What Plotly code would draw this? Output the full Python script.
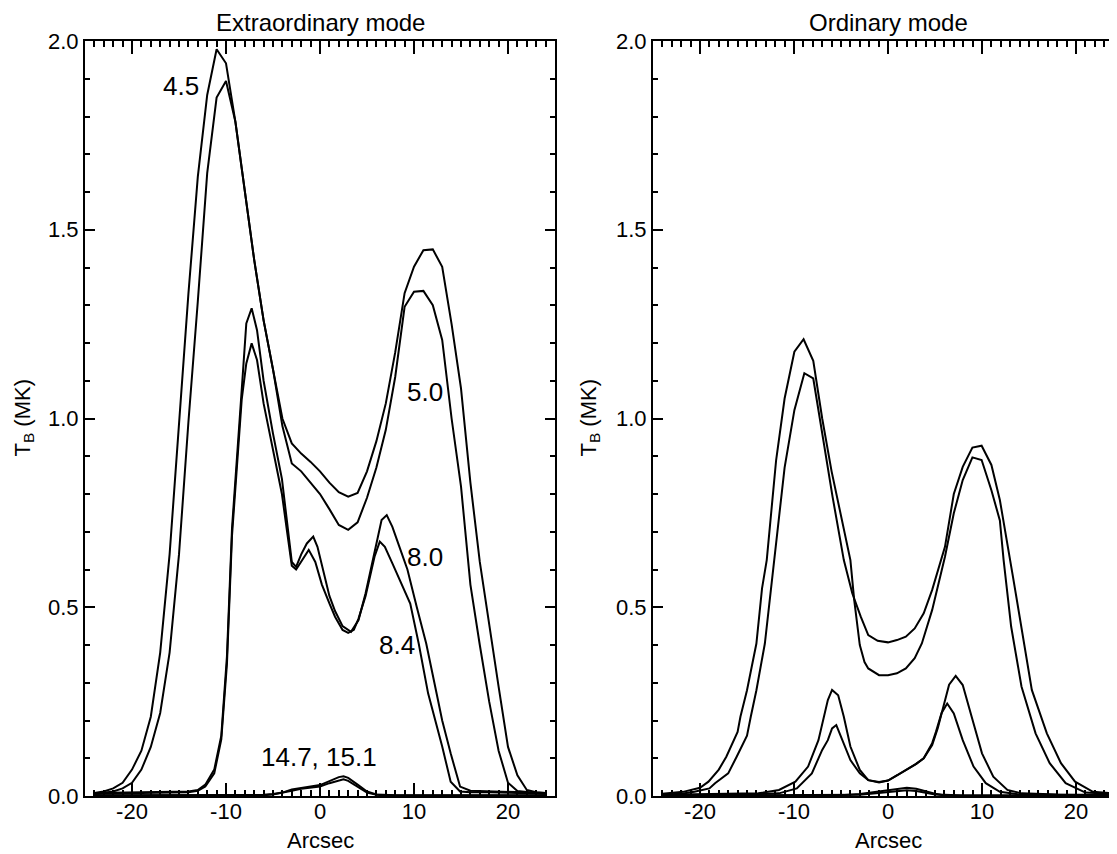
import plotly.graph_objects as go

# ---------------- Extraordinary mode (left panel) ----------------
x_grid = [-24, -23, -22, -21, -20, -19, -18, -17, -16, -15, -14, -13, -12, -11, -10, -9, -8, -7, -6, -5,
          -4, -3, -2, -1, 0, 1, 2, 3, 4, 5, 6, 7, 8, 9, 10, 11, 12, 13, 14, 15, 16, 17, 18, 19, 20, 21, 22, 23, 24]
ex_45_y = [0.008, 0.012, 0.02, 0.035, 0.07, 0.12, 0.21, 0.38, 0.64, 0.99, 1.33, 1.64, 1.857, 1.978, 1.941, 1.786,
           1.60, 1.42, 1.26, 1.13, 1.0, 0.934, 0.907, 0.885, 0.86, 0.83, 0.805, 0.793, 0.803, 0.86, 0.94, 1.04,
           1.175, 1.332, 1.402, 1.446, 1.448, 1.402, 1.25, 1.08, 0.83, 0.62, 0.45, 0.29, 0.13, 0.055, 0.016, 0.01, 0.008]
ex_50_y = [0.005, 0.008, 0.012, 0.02, 0.035, 0.07, 0.13, 0.22, 0.38, 0.64, 0.99, 1.31, 1.65, 1.85, 1.894, 1.786,
           1.60, 1.42, 1.26, 1.13, 0.98, 0.881, 0.86, 0.83, 0.80, 0.76, 0.718, 0.705, 0.725, 0.79, 0.87, 0.97,
           1.11, 1.296, 1.336, 1.338, 1.30, 1.208, 1.0, 0.82, 0.56, 0.40, 0.25, 0.12, 0.035, 0.013, 0.01, 0.008, 0.006]

ex_80_x = [-24, -20, -16, -14, -13, -12.2, -11.25, -10.5, -9.9, -9.36, -8.33, -7.84, -7.27, -6.7, -6.0, -5.0,
           -4.05, -3.5, -3.0, -2.54, -2.0, -1.4, -0.72, -0.27, 0.5, 1.0, 1.6, 2.4, 3.3, 4.1, 4.85, 5.6, 6.2,
           6.55, 7.1, 7.7, 8.45, 9.3, 10.3, 11.3, 12.4, 13.0, 13.9, 14.9, 16, 18, 20, 22, 24]
ex_80_y = [0.008, 0.01, 0.012, 0.012, 0.016, 0.03, 0.07, 0.16, 0.37, 0.71, 1.075, 1.252, 1.292, 1.234, 1.10, 0.96,
           0.84, 0.73, 0.62, 0.607, 0.64, 0.669, 0.687, 0.66, 0.58, 0.53, 0.49, 0.45, 0.435, 0.466, 0.537, 0.625,
           0.696, 0.731, 0.744, 0.713, 0.66, 0.60, 0.50, 0.404, 0.272, 0.20, 0.113, 0.025, 0.014, 0.012, 0.012, 0.01, 0.008]
ex_84_x = [-24, -20, -16, -14, -13, -12.2, -11.25, -10.5, -9.9, -9.36, -8.33, -7.84, -7.27, -6.7, -6.0, -5.0,
           -4.05, -3.5, -3.0, -2.54, -2.0, -1.2, -0.5, 0.2, 1.0, 1.6, 2.4, 3.0, 3.6, 4.1, 4.85, 5.8, 6.36, 6.9,
           7.7, 8.7, 9.6, 10.5, 11.5, 13.0, 13.9, 14.9, 16, 18, 20, 22, 24]
ex_84_y = [0.006, 0.008, 0.01, 0.01, 0.014, 0.025, 0.06, 0.15, 0.35, 0.69, 1.05, 1.146, 1.199, 1.155, 1.04, 0.92,
           0.80, 0.70, 0.61, 0.60, 0.62, 0.652, 0.62, 0.56, 0.51, 0.475, 0.44, 0.432, 0.44, 0.47, 0.53, 0.634,
           0.674, 0.66, 0.616, 0.56, 0.51, 0.404, 0.272, 0.131, 0.038, 0.012, 0.01, 0.01, 0.009, 0.008, 0.006]

ex_hi_x = [-24, -10, -6, -5, -4, -3, -2, -1, 0, 1, 2, 2.5, 3, 4, 5, 6, 8, 24]
ex_147_y = [0.002, 0.002, 0.003, 0.005, 0.009, 0.017, 0.022, 0.025, 0.029, 0.040, 0.050, 0.052, 0.048, 0.030,
            0.012, 0.004, 0.002, 0.002]
ex_151_y = [0.001, 0.001, 0.002, 0.004, 0.008, 0.014, 0.019, 0.022, 0.025, 0.034, 0.042, 0.044, 0.040, 0.025,
            0.009, 0.003, 0.001, 0.001]

# ---------------- Ordinary mode (right panel) ----------------
o_45_x = [-24, -21.8, -20, -19.1, -18, -17.2, -16, -15.7, -15, -14, -13.4, -12.9, -11.9, -11.0, -9.96, -8.98,
          -7.95, -7.0, -6.0, -5.0, -4.0, -3.6, -3.0, -2.5, -2.1, -0.95, 0, 0.95, 1.9, 2.84, 3.6, 4.7, 5.7, 6.06,
          7.0, 7.95, 8.98, 9.96, 11.0, 11.9, 12.3, 13.1, 14.2, 15.7, 17.2, 18.9, 21.0, 24]
o_45_y = [0.006, 0.011, 0.022, 0.038, 0.07, 0.104, 0.17, 0.21, 0.28, 0.404, 0.55, 0.625, 0.89, 1.053, 1.177, 1.210,
          1.153, 1.0, 0.86, 0.74, 0.625, 0.52, 0.40, 0.355, 0.338, 0.32, 0.32, 0.325, 0.338, 0.365, 0.404, 0.493,
          0.599, 0.634, 0.749, 0.837, 0.897, 0.89, 0.81, 0.73, 0.625, 0.449, 0.29, 0.166, 0.087, 0.034, 0.009, 0.005]
o_50_x = [-24, -22, -20.6, -19, -18.4, -17, -16.1, -15, -14.6, -14, -13.1, -12.3, -11.9, -11.0, -9.96, -8.9,
          -7.95, -7.0, -5.9, -4.7, -3.8, -2.9, -2.1, -1.1, 0, 0.95, 1.9, 2.84, 3.8, 4.7, 5.7, 6.06, 7.0, 7.95,
          8.98, 9.96, 11.0, 11.9, 13.3, 14.2, 15.3, 16.9, 18.4, 19.9, 21.8, 24]
o_50_y = [0.004, 0.006, 0.011, 0.02, 0.034, 0.06, 0.104, 0.16, 0.21, 0.28, 0.404, 0.58, 0.66, 0.87, 1.022, 1.12,
          1.106, 0.96, 0.793, 0.625, 0.537, 0.475, 0.426, 0.411, 0.407, 0.413, 0.422, 0.444, 0.484, 0.546, 0.625,
          0.66, 0.80, 0.872, 0.923, 0.928, 0.877, 0.784, 0.58, 0.449, 0.281, 0.166, 0.087, 0.038, 0.011, 0.007]

o_80_x = [-24, -20, -16, -13.8, -11.6, -9.85, -8.5, -7.4, -6.4, -5.95, -5.3, -4.7, -4.0, -3.0, -2.1, -0.95, 0,
          1.0, 2.0, 3.0, 3.8, 4.7, 5.3, 5.9, 6.5, 7.2, 7.95, 8.9, 10.0, 11.2, 12.7, 14.2, 18, 24]
o_80_y = [0.003, 0.004, 0.005, 0.007, 0.016, 0.038, 0.078, 0.148, 0.254, 0.281, 0.267, 0.21, 0.131, 0.069, 0.042,
          0.036, 0.041, 0.055, 0.07, 0.085, 0.10, 0.135, 0.18, 0.24, 0.295, 0.318, 0.294, 0.21, 0.113, 0.051, 0.016,
          0.007, 0.004, 0.003]
o_84_x = [-24, -16, -11.6, -9.7, -8.1, -7.0, -6.4, -5.95, -5.5, -4.7, -4.0, -3.0, -2.1, -0.95, 0, 1.0, 2.0,
          3.0, 3.8, 4.7, 5.1, 5.7, 6.3, 7.0, 7.95, 9.1, 10.4, 11.9, 14, 24]
o_84_y = [0.002, 0.003, 0.007, 0.02, 0.06, 0.122, 0.148, 0.179, 0.188, 0.14, 0.095, 0.06, 0.042, 0.037, 0.041,
          0.055, 0.07, 0.085, 0.10, 0.14, 0.17, 0.22, 0.245, 0.219, 0.148, 0.078, 0.034, 0.011, 0.004, 0.002]

o_hi_x = [-24, -6, -5, -3, -1, 0, 1, 2, 3, 4, 5, 6, 8, 24]
o_147_y = [0.001, 0.001, 0.002, 0.005, 0.012, 0.016, 0.020, 0.022, 0.019, 0.012, 0.006, 0.003, 0.001, 0.001]
o_151_y = [0.001, 0.001, 0.001, 0.003, 0.008, 0.011, 0.014, 0.015, 0.013, 0.008, 0.004, 0.002, 0.001, 0.001]

# labels
panel_titles = ["Extraordinary mode", "Ordinary mode"]
freq_labels = ["4.5", "5.0", "8.0", "8.4", "14.7, 15.1"]
freq_label_x = [-14.75, 11.2, 11.2, 8.16, -0.08]
freq_label_y = [1.88, 1.071, 0.634, 0.40, 0.104]
x_title = "Arcsec"
y_title = "T<sub>B</sub> (MK)"
y_ticks = [0.0, 0.5, 1.0, 1.5, 2.0]
x_ticks = [-20, -10, 0, 10, 20]

FONT = "Liberation Sans, Arial, Helvetica, sans-serif"
# the page body has an 8 px margin, so the figure is sized to end at the window edge
W, H = 1109, 846
ML, MR, MT, MB = 77, 0, 33, 58
PW = W - ML - MR
PX_UNIT = 470 / 50.0
RIGHT_LEFT = 645          # left spine of right panel (figure px)
RIGHT_ZERO = RIGHT_LEFT + 25 * PX_UNIT
line = dict(color="black", width=2)

fig = go.Figure()
left = [(x_grid, ex_45_y), (x_grid, ex_50_y), (ex_80_x, ex_80_y), (ex_84_x, ex_84_y),
        (ex_hi_x, ex_147_y), (ex_hi_x, ex_151_y)]
right = [(o_45_x, o_45_y), (o_50_x, o_50_y), (o_80_x, o_80_y), (o_84_x, o_84_y),
         (o_hi_x, o_147_y), (o_hi_x, o_151_y)]
for xs, ys in left:
    fig.add_trace(go.Scatter(x=xs, y=ys, mode="lines", line=line, xaxis="x", yaxis="y",
                             showlegend=False, hoverinfo="skip"))
for xs, ys in right:
    fig.add_trace(go.Scatter(x=xs, y=ys, mode="lines", line=line, xaxis="x2", yaxis="y2",
                             showlegend=False, hoverinfo="skip"))
# empty trace so the clipped right-hand tick axis of the right panel is drawn
fig.add_trace(go.Scatter(x=[], y=[], mode="lines", xaxis="x2", yaxis="y3", showlegend=False,
                         hoverinfo="skip"))

right_end = (W - RIGHT_ZERO) / PX_UNIT

def xax(domain, rng):
    return dict(domain=domain, range=rng, tickmode="array", tickvals=x_ticks,
                ticktext=[str(v) for v in x_ticks], ticks="inside", ticklen=13, tickwidth=1.5,
                tickcolor="black", showline=True, linecolor="black", linewidth=2, mirror="ticks",
                showgrid=False, zeroline=False, ticklabelstandoff=-5,
                minor=dict(dtick=1, tick0=0, ticks="inside", ticklen=6, tickwidth=1.5, tickcolor="black",
                           showgrid=False),
                tickfont=dict(family=FONT, size=22, color="black"))

def yax(anchor, mirror):
    return dict(domain=[0, 1], range=[0, 2], anchor=anchor, tickmode="array", tickvals=y_ticks,
                ticktext=["%.1f" % v for v in y_ticks], ticks="inside", ticklen=10, tickwidth=1.5,
                tickcolor="black", showline=True, linecolor="black", linewidth=2, mirror=mirror,
                showgrid=False, zeroline=False,
                minor=dict(dtick=0.1, tick0=0, ticks="inside", ticklen=5, tickwidth=1.5, tickcolor="black",
                           showgrid=False),
                tickfont=dict(family=FONT, size=22, color="black"))

fig.update_layout(
    width=W, height=H, margin=dict(l=ML, r=MR, t=MT, b=MB, pad=0),
    paper_bgcolor="white", plot_bgcolor="white",
    xaxis=xax([0, 470 / PW], [-25, 25]) | dict(anchor="y"),
    xaxis2=xax([(RIGHT_LEFT - ML) / PW, 1.0], [-25, right_end]) | dict(anchor="y2"),
    yaxis=yax("x", "ticks"), yaxis2=yax("x2", False),
    yaxis3=dict(overlaying="y2", anchor="x2", side="right", range=[0, 2], tickmode="array",
                tickvals=y_ticks, ticks="inside", ticklen=4, tickwidth=1.5, tickcolor="black",
                showline=False, showticklabels=False, showgrid=False, zeroline=False),
    font=dict(family=FONT, color="black"),
)

ann = []
for i, (xr, title) in enumerate([("x domain", panel_titles[0]), ("x2 domain", panel_titles[1])]):
    cx = 0.5 if i == 0 else (RIGHT_ZERO - RIGHT_LEFT) / (W - RIGHT_LEFT)
    ann.append(dict(text=title, xref=xr, x=cx, yref="paper", y=1, borderpad=0,
                    yshift=19, yanchor="middle", xanchor="center", showarrow=False,
                    font=dict(family=FONT, size=24, color="black")))
    ann.append(dict(text=x_title, xref=xr, x=cx, yref="paper", y=0, borderpad=0,
                    yshift=-44, yanchor="middle", xanchor="center", showarrow=False,
                    font=dict(family=FONT, size=22, color="black")))
    ann.append(dict(text=y_title, xref=xr, x=0, xshift=-62 if i == 0 else -64,
                    yref="y" if i == 0 else "y2", y=1.0, textangle=-90, xanchor="center",
                    yanchor="middle", showarrow=False, font=dict(family=FONT, size=22, color="black")))
for t, lx, ly in zip(freq_labels, freq_label_x, freq_label_y):
    ann.append(dict(text=t, xref="x", yref="y", x=lx, y=ly, showarrow=False, xanchor="center",
                    yanchor="middle", font=dict(family=FONT, size=26, color="black")))
fig.update_layout(annotations=ann)

fig.write_html("out.html")
